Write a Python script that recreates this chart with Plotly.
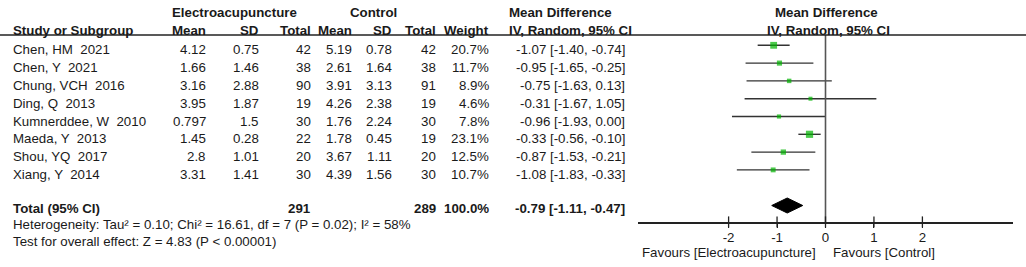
import math
import plotly.graph_objects as go

# ---------------- data ----------------
studies = ["Chen, HM  2021", "Chen, Y  2021", "Chung, VCH  2016", "Ding, Q  2013",
           "Kumnerddee, W  2010", "Maeda, Y  2013", "Shou, YQ  2017", "Xiang, Y  2014"]
e_mean = [4.12, 1.66, 3.16, 3.95, 0.797, 1.45, 2.8, 3.31]
e_sd = [0.75, 1.46, 2.88, 1.87, 1.5, 0.28, 1.01, 1.41]
e_total = [42, 38, 90, 19, 30, 22, 20, 30]
c_mean = [5.19, 2.61, 3.91, 4.26, 1.76, 1.78, 3.67, 4.39]
c_sd = [0.78, 1.64, 3.13, 2.38, 2.24, 0.45, 1.11, 1.56]
c_total = [42, 38, 91, 19, 30, 19, 20, 30]
weight = [20.7, 11.7, 8.9, 4.6, 7.8, 23.1, 12.5, 10.7]
md = [-1.07, -0.95, -0.75, -0.31, -0.96, -0.33, -0.87, -1.08]
ci_lo = [-1.40, -1.65, -1.63, -1.67, -1.93, -0.56, -1.53, -1.83]
ci_hi = [-0.74, -0.25, 0.13, 1.05, 0.00, -0.10, -0.21, -0.33]

total_e = 291
total_c = 289
total_w = 100.0
total_md = -0.79
total_lo = -1.11
total_hi = -0.47

heterogeneity = "Heterogeneity: Tau² = 0.10; Chi² = 16.61, df = 7 (P = 0.02); I² = 58%"
overall = "Test for overall effect: Z = 4.83 (P &lt; 0.00001)"

tick_vals = [-2, -1, 0, 1, 2]
tick_text = ["-2", "-1", "0", "1", "2"]

# ---------------- layout helpers ----------------
W, H = 1026, 267
FONT = "Liberation Sans, Arial, sans-serif"
FS = 13.3
TXT = "#1a1a1a"
GREEN = "#00b400"
ROW0, ROWH = 45.3, 17.8          # pixel y of first study row, row spacing
AXIS_Y = 222.0                   # pixel y of the x-axis line
TEXT_OFF = 4.5                   # text sits slightly below the marker centre

def px(x):
    return x / W

def py(y):
    return 1 - y / H

y_top = -ROW0 / ROWH
y_bot = (AXIS_Y - ROW0) / ROWH

fig = go.Figure()

annotations = []

def txt(s, x, y, anchor="left", bold=False, size=FS):
    annotations.append(dict(
        text=f"<b>{s}</b>" if bold else s,
        x=px(x), y=py(y), xref="paper", yref="paper",
        xanchor=anchor, yanchor="middle", showarrow=False,
        borderpad=0,
        font=dict(family=FONT, size=size, color=TXT)))

# headers
txt("Electroacupuncture", 234, 12, "center", True)
txt("Control", 373, 12, "center", True)
txt("Mean Difference", 508, 12, "left", True)
txt("Mean Difference", 826, 12, "center", True)
hy = 30
txt("Study or Subgroup", 12, hy, "left", True)
txt("Mean", 207, hy, "right", True)
txt("SD", 260, hy, "right", True)
txt("Total", 312, hy, "right", True)
txt("Mean", 353, hy, "right", True)
txt("SD", 393, hy, "right", True)
txt("Total", 437, hy, "right", True)
txt("Weight", 490, hy, "right", True)
txt("IV, Random, 95% CI", 508, hy, "left", True)
txt("IV, Random, 95% CI", 828, hy, "center", True)

# study rows
for i, s in enumerate(studies):
    y = ROW0 + i * ROWH + TEXT_OFF
    txt(s, 12, y, "left")
    txt(str(e_mean[i]), 207, y, "right")
    txt(str(e_sd[i]), 260, y, "right")
    txt(str(e_total[i]), 312, y, "right")
    txt(str(c_mean[i]), 353, y, "right")
    txt(str(c_sd[i]), 393, y, "right")
    txt(str(c_total[i]), 437, y, "right")
    txt(f"{weight[i]:.1f}%", 490, y, "right")
    txt(f"{md[i]:.2f} [{ci_lo[i]:.2f}, {ci_hi[i]:.2f}]", 626, y, "right")

# total rows
ty = 208
txt("Total (95% CI)", 12, ty, "left", True)
txt(str(total_e), 312, ty, "right", True)
txt(str(total_c), 437, ty, "right", True)
txt(f"{total_w:.1f}%", 490, ty, "right", True)
txt(f"{total_md:.2f} [{total_lo:.2f}, {total_hi:.2f}]", 626, ty, "right", True)
txt(heterogeneity, 12, 224, "left")
txt(overall, 12, 241, "left")

# favours labels
txt("Favours [Electroacupuncture]", 817, 252, "right")
txt("Favours [Control]", 832, 252, "left")

# ---------------- forest plot marks ----------------
rows = list(range(len(studies)))
lx, ly = [], []
for i in rows:
    lx += [ci_lo[i], ci_hi[i], None]
    ly += [i, i, None]
fig.add_trace(go.Scatter(x=lx, y=ly, mode="lines",
                         line=dict(color="#333333", width=1.4),
                         hoverinfo="skip", showlegend=False, cliponaxis=False))

# vertical line of no effect
fig.add_trace(go.Scatter(x=[0, 0], y=[(35 - ROW0) / ROWH, y_bot], mode="lines",
                         line=dict(color="#555555", width=1.6),
                         hoverinfo="skip", showlegend=False, cliponaxis=False))

fig.add_trace(go.Scatter(x=md, y=rows, mode="markers",
                         marker=dict(symbol="square", color=GREEN,
                                     size=[max(4.0, 1.5 * math.sqrt(w)) for w in weight],
                                     line=dict(width=0)),
                         hoverinfo="skip", showlegend=False, cliponaxis=False))

# pooled diamond
drow = len(studies) + 1
dh = 7.5 / ROWH
fig.add_trace(go.Scatter(x=[total_lo, total_md, total_hi, total_md, total_lo],
                         y=[drow, drow - dh, drow, drow + dh, drow],
                         mode="lines", fill="toself", fillcolor="black",
                         line=dict(color="black", width=1),
                         hoverinfo="skip", showlegend=False, cliponaxis=False))

# upward halves of the crossing tick marks
fig.add_trace(go.Scatter(x=tick_vals, y=[y_bot] * len(tick_vals), mode="markers",
                         marker=dict(symbol="line-ns", size=8,
                                     line=dict(color="#222222", width=1.3)),
                         hoverinfo="skip", showlegend=False, cliponaxis=False))

# header rule
shapes = [dict(type="line", xref="paper", yref="paper", x0=0, x1=1,
               y0=py(35), y1=py(35), line=dict(color="#222222", width=1.5))]

fig.update_layout(
    width=W, height=H, autosize=False,
    margin=dict(l=0, r=0, t=0, b=0, pad=0),
    paper_bgcolor="white", plot_bgcolor="white",
    annotations=annotations, shapes=shapes,
    xaxis=dict(domain=[638 / W, 1013 / W], range=[-3.87, 3.87],
               showgrid=False, zeroline=False, showline=True,
               linecolor="#222222", linewidth=1.5,
               ticks="outside", ticklen=4, tickwidth=1.3, tickcolor="#222222",
               ticklabelstandoff=-2,
               tickvals=tick_vals, ticktext=tick_text,
               tickfont=dict(family=FONT, size=FS, color=TXT)),
    yaxis=dict(domain=[(H - AXIS_Y) / H, 1], range=[y_bot, y_top],
               visible=False, showgrid=False, zeroline=False),
    font=dict(family=FONT, size=FS, color=TXT),
)

fig.write_html("out.html", config={"displayModeBar": False},
               post_script="document.body.style.margin='0';document.body.style.overflow='hidden';")
